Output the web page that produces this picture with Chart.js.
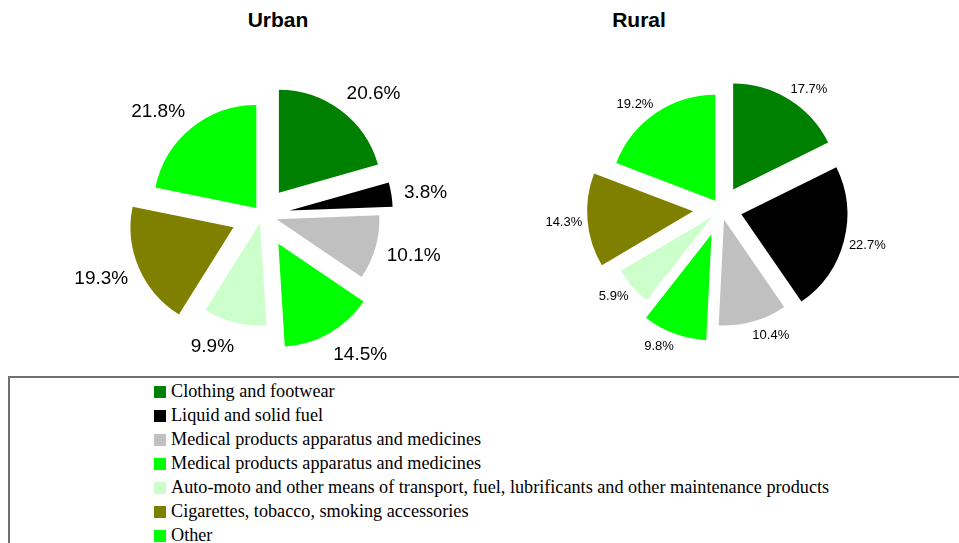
<!DOCTYPE html>
<html>
<head>
<meta charset="utf-8">
<title>Urban / Rural</title>
<script src="https://cdn.jsdelivr.net/npm/chart.js@4.4.1/dist/chart.umd.min.js"></script>
<style>
  html, body { margin:0; padding:0; background:#fff; width:959px; height:543px; overflow:hidden; }
  .title { position:absolute; top:8px; font:bold 21px "Liberation Sans", Arial, sans-serif; color:#000; transform:translateX(-50%); white-space:nowrap; }
  #wrapU { position:absolute; left:0; top:40px; width:524px; height:350px; z-index:2; }
  #wrapR { position:absolute; left:521px; top:40px; width:400px; height:338px; z-index:2; }
  #legend { position:absolute; left:8px; top:376px; width:1100px; height:300px; border:2px solid #707070; box-sizing:border-box; }
  #legend ul { list-style:none; margin:0; padding:3px 0 0 144px; }
  #legend li { height:24px; line-height:24px; font:18.2px "Liberation Serif", "Times New Roman", serif; color:#000; white-space:nowrap; }
  #legend .sw { display:inline-block; width:12px; height:12px; margin-right:5px; vertical-align:-1px; }
</style>
</head>
<body>

<div class="title" style="left:278px">Urban</div>
<div class="title" style="left:639px">Rural</div>
<div id="wrapU"><canvas id="urban"></canvas></div>
<div id="wrapR"><canvas id="rural"></canvas></div>
<div id="legend"><ul id="legendList"></ul></div>

<script>
// ============ Data ============
const categories = [
  "Clothing and footwear",
  "Liquid and solid fuel",
  "Medical products apparatus and medicines",
  "Medical products apparatus and medicines",
  "Auto-moto and other means of transport, fuel, lubrificants and other maintenance products",
  "Cigarettes, tobacco, smoking accessories",
  "Other"
];
const urbanValues = [20.6, 3.8, 10.1, 14.5, 9.9, 19.3, 21.8];
const ruralValues = [17.7, 22.7, 10.4, 9.8, 5.9, 14.3, 19.2];

// ============ Styles ============
const colors = ["#008000", "#000000", "#C0C0C0", "#00FF00", "#CCFFCC", "#808000", "#00FF00"];
const urbanExplode = [28, 28, 15, 33, 8, 31, 9];      // px each slice is pulled out
const ruralExplode = [23, 21, 11, 27, 12, 28, 10];

// ============ Plugins ============
// pull each slice out along its bisector
function explodePlugin(gaps){
  return {
    id: "explode",
    afterDatasetUpdate(chart, args){
      const a = chart.chartArea;
      const cx = (a.left + a.right) / 2, cy = (a.top + a.bottom) / 2;
      args.meta.data.forEach((arc, i) => {
        const mid = (arc.startAngle + arc.endAngle) / 2;
        arc.x = cx + Math.cos(mid) * (gaps[i] || 0);
        arc.y = cy + Math.sin(mid) * (gaps[i] || 0);
      });
    }
  };
}

// percent labels outside each slice
function labelPlugin(size, pad){
  return {
    id: "pieLabels",
    afterDatasetsDraw(chart){
      const ctx = chart.ctx;
      const meta = chart.getDatasetMeta(0);
      const vals = chart.data.datasets[0].data;
      ctx.save();
      ctx.font = `${size}px "Liberation Sans", Arial, sans-serif`;
      ctx.fillStyle = "#000";
      ctx.textAlign = "center";
      ctx.textBaseline = "middle";
      meta.data.forEach((arc, i) => {
        const mid = (arc.startAngle + arc.endAngle) / 2;
        const c = Math.cos(mid), s = Math.sin(mid);
        const txt = vals[i].toFixed(1) + "%";
        const w = ctx.measureText(txt).width, h = size * 0.75;
        const r = arc.outerRadius + pad;
        const x = arc.x + c * r + Math.sign(c) * w / 2 * 0.85;
        const y = arc.y + s * r + s * h / 2 + size * 0.1;
        ctx.fillText(txt, x, y);
      });
      ctx.restore();
    }
  };
}

// ============ Charts ============
function makePie(id, values, gaps, radius, fontSize, pad){
  return new Chart(document.getElementById(id), {
    type: "pie",
    data: {
      labels: categories,
      datasets: [{ data: values, backgroundColor: colors, borderWidth: 0 }]
    },
    options: {
      responsive: true,
      maintainAspectRatio: false,
      animation: false,
      events: [],
      radius: radius,
      layout: { padding: 0 },
      plugins: { legend: { display: false }, tooltip: { enabled: false } }
    },
    plugins: [explodePlugin(gaps), labelPlugin(fontSize, pad)]
  });
}

makePie("urban", urbanValues, urbanExplode, 103, 19, 16);
makePie("rural", ruralValues, ruralExplode, 106, 13, 8);

// ============ Legend ============
const list = document.getElementById("legendList");
categories.forEach((name, i) => {
  const li = document.createElement("li");
  const sw = document.createElement("span");
  sw.className = "sw";
  sw.style.background = colors[i];
  li.appendChild(sw);
  li.appendChild(document.createTextNode(name));
  list.appendChild(li);
});
</script>
</body>
</html>
